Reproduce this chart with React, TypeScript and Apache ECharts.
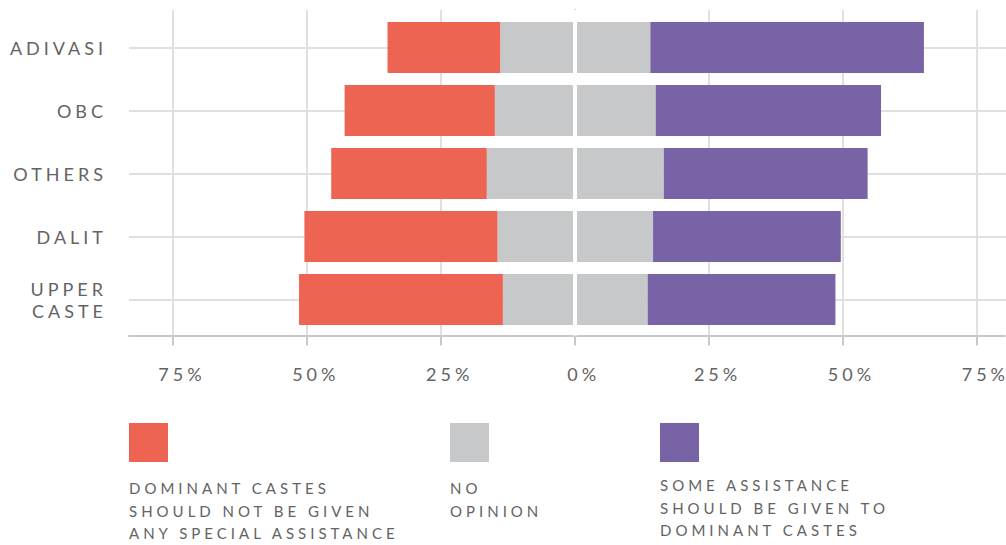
import React, { useEffect, useRef } from "react";
import * as echarts from "echarts";

const categories = ["ADIVASI", "OBC", "OTHERS", "DALIT", "UPPER\nCASTE"];
const notGiven = [21, 28, 29, 36, 38];
const noOpinion = [28, 30, 33, 29, 27];
const someAssistance = [51, 42, 38, 35, 35];
const tickValues = [-75, -50, -25, 0, 25, 50, 75];
const legendLabels = [
  "DOMINANT CASTES\nSHOULD NOT BE GIVEN\nANY SPECIAL ASSISTANCE",
  "NO\nOPINION",
  "SOME ASSISTANCE\nSHOULD BE GIVEN TO\nDOMINANT CASTES",
];

const RED = "#EE6452";
const GRAY = "#C7C8CA";
const PURPLE = "#7763A5";
const TEXT = "#636363";
const FONT = "Lato, 'Open Sans', sans-serif";

export default function App() {
  const ref = useRef<HTMLDivElement>(null);

  useEffect(() => {
    if (!ref.current) return;
    const chart = echarts.init(ref.current, null, { renderer: "svg" });
    const barCommon = {
      type: "bar",
      stack: "total",
      xAxisIndex: 1,
      yAxisIndex: 1,
      barWidth: 51,
      silent: true,
      z: 2,
    };
    chart.setOption({
      animation: false,
      textStyle: { fontFamily: FONT },
      grid: [
        { left: 129, right: 0, top: 10, bottom: 209.5 },
        { left: 129, right: 0, top: 16, bottom: 214 },
      ],
      xAxis: [
        {
          type: "value",
          gridIndex: 0,
          min: -83.2,
          max: 80.3,
          axisLine: { show: true, lineStyle: { color: "#C8C8C8", width: 2 } },
          axisTick: {
            show: true,
            customValues: tickValues,
            length: 10,
            lineStyle: { color: "#C8C8C8", width: 2 },
          },
          axisLabel: {
            customValues: tickValues,
            formatter: (v: number) => Math.abs(v) + "%",
            color: TEXT,
            fontSize: 18,
            fontFamily: FONT,
            margin: 29,
            lineHeight: 18,
            padding: [0, 0, 0, 18],
          },
          splitLine: { show: true, lineStyle: { color: "#E0E0E0", width: 2 } },
        },
        {
          type: "value",
          gridIndex: 1,
          min: -83.2,
          max: 80.3,
          show: false,
          splitLine: { show: false },
        },
      ],
      yAxis: [
        {
          type: "value",
          gridIndex: 0,
          min: 0,
          max: 1,
          axisLine: { show: true, lineStyle: { color: "#C3C3C3", width: 2 } },
          axisTick: { show: false },
          axisLabel: { show: false },
          splitLine: { show: false },
        },
        {
          type: "category",
          gridIndex: 1,
          inverse: true,
          data: categories,
          axisLine: { show: false },
          axisTick: { show: false },
          splitLine: { show: false },
          axisLabel: {
            color: TEXT,
            fontSize: 18,
            fontFamily: FONT,
            margin: 22,
            lineHeight: 22,
            align: "right",
          },
        },
      ],
      series: [
        {
          type: "scatter",
          xAxisIndex: 0,
          yAxisIndex: 0,
          data: [[0, 0.5]],
          symbolSize: 0,
          silent: true,
          markLine: {
            silent: true,
            symbol: "none",
            z: 6,
            label: { show: false },
            lineStyle: { color: "#FFFFFF", width: 4, type: "solid" },
            data: [{ xAxis: 0 }],
          },
        },
        {
          ...barCommon,
          name: "no opinion left",
          data: noOpinion.map((v) => -v / 2),
          itemStyle: { color: GRAY },
          markLine: {
            silent: true,
            symbol: "none",
            z: 1,
            label: { show: false },
            lineStyle: { color: "#E0E0E0", width: 2, type: "solid" },
            data: categories.map((c) => ({ yAxis: c })),
          },
        },
        {
          ...barCommon,
          name: "not given",
          data: notGiven.map((v) => -v),
          itemStyle: { color: RED },
        },
        {
          ...barCommon,
          name: "no opinion right",
          data: noOpinion.map((v) => v / 2),
          itemStyle: { color: GRAY },
        },
        {
          ...barCommon,
          name: "some assistance",
          data: someAssistance,
          itemStyle: { color: PURPLE },
        },
      ],
      graphic: [
        { type: "rect", shape: { x: 129, y: 423, width: 39, height: 39 }, style: { fill: RED } },
        { type: "rect", shape: { x: 450, y: 423, width: 39, height: 39 }, style: { fill: GRAY } },
        { type: "rect", shape: { x: 660, y: 423, width: 39, height: 39 }, style: { fill: PURPLE } },
        {
          type: "text",
          x: 129,
          y: 477,
          style: { text: legendLabels[0], fill: TEXT, fontSize: 15, fontFamily: FONT, lineHeight: 22.5, verticalAlign: "top", align: "left" },
        },
        {
          type: "text",
          x: 450,
          y: 477,
          style: { text: legendLabels[1], fill: TEXT, fontSize: 15, fontFamily: FONT, lineHeight: 22.5, verticalAlign: "top", align: "left" },
        },
        {
          type: "text",
          x: 660,
          y: 474,
          style: { text: legendLabels[2], fill: TEXT, fontSize: 15, fontFamily: FONT, lineHeight: 22.5, verticalAlign: "top", align: "left" },
        },
      ],
    });
    return () => chart.dispose();
  }, []);

  return (
    <>
      <style>{`.chartbox text { letter-spacing: 4px; }`}</style>
      <div
        ref={ref}
        className="chartbox"
        style={{ position: "absolute", left: 0, top: 0, width: 1006, height: 545, background: "#fff" }}
      />
    </>
  );
}
